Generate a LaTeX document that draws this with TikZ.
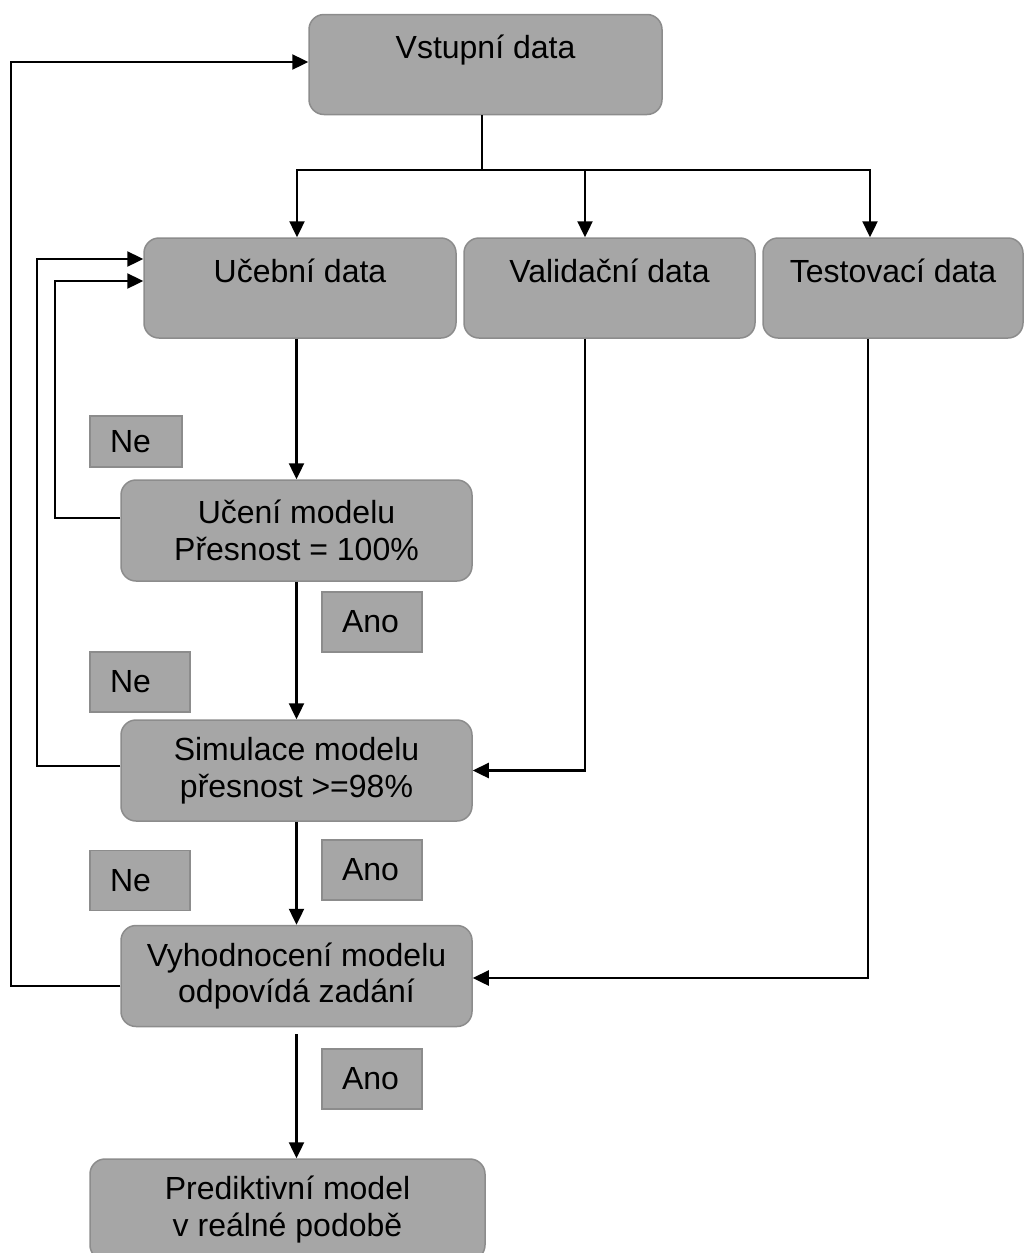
\documentclass[tikz,border=0pt]{standalone}
\usepackage{fontspec}
\setmainfont{Liberation Sans}
\usetikzlibrary{arrows.meta}

\definecolor{boxfill}{HTML}{A6A6A6}
\definecolor{boxline}{HTML}{8C8C8C}

\tikzstyle{datablock} = [rectangle, rounded corners=7.5pt, minimum height=50pt, text height=11.5pt, text depth=17.5pt, inner sep=0pt, text centered, fill=boxfill, draw=boxline, line width=0.75pt]
\tikzstyle{process} = [rectangle, rounded corners=7.5pt, minimum width=175.5pt, minimum height=50.5pt, align=center, fill=boxfill, draw=boxline, line width=0.75pt]
\tikzstyle{tag} = [rectangle, inner xsep=10pt, inner ysep=0pt, align=left, minimum height=30pt, fill=boxfill, draw=boxline, line width=0.75pt]
\tikzstyle{arrow} = [line width=1.2pt, -{Triangle[length=8pt,width=7.5pt]}]
\tikzstyle{line} = [line width=1.2pt]

\begin{document}
\begin{tikzpicture}[x=0.5pt, y=-0.5pt, font=\fontsize{16}{18.4}\selectfont]
        \useasboundingbox (0,0) rectangle (1024,1253);

        % Nodes
        \node (input) [datablock, minimum width=176.5pt] at (485.5,64.5) {Vstupní data};
        \node (train) [datablock, minimum width=156pt] at (300,288) {Učební data};
        \node (valid) [datablock, minimum width=145.5pt] at (609.5,288) {Validační data};
        \node (test) [datablock, minimum width=130pt] at (893,288) {Testovací data};
        \node (learn) [process] at (296.5,530.5) {Učení modelu\\Přesnost = 100\%};
        \node (sim) [process] at (296.5,770.5) {Simulace modelu\\přesnost >=98\%};
        \node (eval) [process] at (296.5,976) {Vyhodnocení modelu\\odpovídá zadání};
        \node (pred) [process, minimum width=197.5pt] at (287.5,1209.5) {Prediktivní model\\v reálné podobě};

        \node (ne1) [tag, text width=26pt, minimum height=25.5pt] at (136,441.5) {Ne};
        \node (ano1) [tag, text width=30pt] at (372,622) {Ano};
        \node (ne2) [tag, text width=30pt] at (140,682) {Ne};
        \node (ano2) [tag, text width=30pt] at (372,870) {Ano};
        \node (ne3) [tag, text width=30pt] at (140,880.5) {Ne};
        \node (ano3) [tag, text width=30pt] at (372,1079) {Ano};

        \coordinate (split) at (482,170);

        % Arrows
        \draw [line] ([xshift=-1.75pt]input.south) -- (split);
        \draw [arrow] (split) -| ([xshift=-1.5pt]train.north);
        \draw [arrow] (split) -| ([xshift=-12.25pt]valid.north);
        \draw [arrow] (split) -| ([xshift=-11.5pt]test.north);

        \draw [arrow] (learn.north |- train.south) -- (learn.north);
        \draw [arrow] (learn) -- (sim);
        \draw [arrow] (sim) -- (eval);
        \draw [arrow] ([yshift=-3.5pt]eval.south) -- (eval.south |- pred.north);

        \draw [arrow] ([yshift=6.25pt]learn.west) -| (55,281) -- ([yshift=3.5pt]train.west);
        \draw [arrow] ([yshift=2.25pt]sim.west) -| (37,259) -- ([yshift=14.5pt]train.west);
        \draw [arrow] ([yshift=-5pt]eval.west) -| (11,62) -- ([yshift=1.25pt]input.west);

        \draw [arrow] ([xshift=-12.25pt]valid.south) |- (sim.east);
        \draw [arrow] ([xshift=-12.5pt]test.south) |- ([yshift=-1pt]eval.east);
    \end{tikzpicture}
\end{document}
